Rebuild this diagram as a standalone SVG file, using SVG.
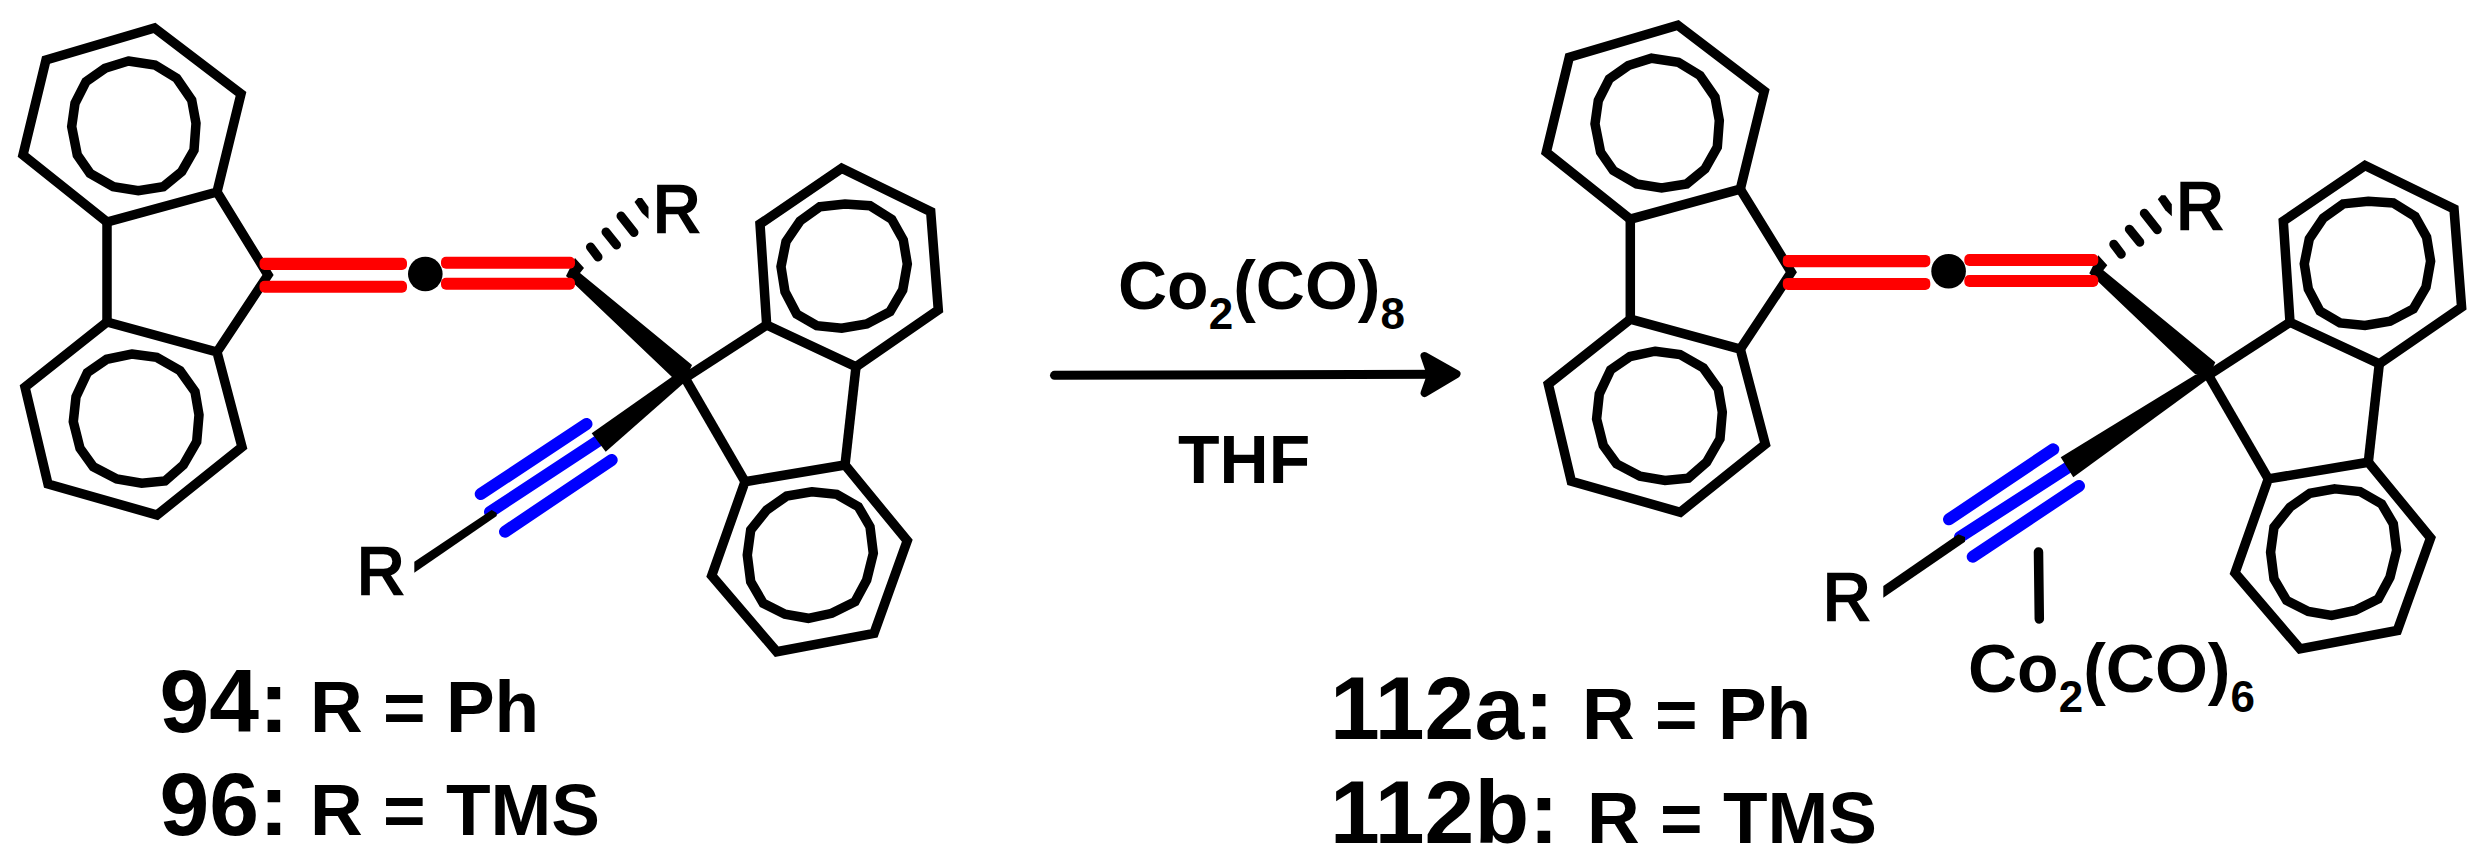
<svg xmlns="http://www.w3.org/2000/svg" xmlns:xlink="http://www.w3.org/1999/xlink" width="2485" height="866" viewBox="0 0 2485 866">
<style>
.b{fill:none;stroke:#000;stroke-width:9.5;stroke-linejoin:miter;stroke-miterlimit:6}
.k{fill:#000;stroke:none}
.h{fill:none;stroke:#000;stroke-width:9;stroke-linecap:round}
.red{fill:#f00;stroke:none}
.tr{fill:none;stroke:#00f;stroke-width:12;stroke-linecap:round}
text{font-family:"Liberation Sans",Arial,sans-serif;font-weight:700;fill:#000}
.n{font-size:89.5px}
.r{font-size:73px}
.a{font-size:68px}
.s{font-size:44px}
.atom{font-size:66px;font-weight:400;stroke:#000;stroke-width:2.6}
</style>
<defs>
<g id="core">
<polygon class="b" points="154.5,28 241,94 217,192 107,222 23,155 46,60"/>
<polygon class="b" points="128.3,61 155,65 176.7,78.3 191.7,100 196,123.3 194,150 181.7,171.7 163.3,186.7 138.3,190.7 113.3,186.7 90,173.3 77.3,155 71.7,126.7 75,103.3 86,81.7 105,68.3"/>
<polygon class="b" points="107,322 217,352 242,447 157,515 48,484 25,387"/>
<polygon class="b" points="131.7,354 156.7,357.3 180,370.7 195,391.7 199,415 196.7,441.7 183.3,465 165,481 141.7,483.3 116.7,479 93.3,466.7 80,448.3 73.3,421.7 76,396.7 87.3,372.7 106.7,359.3"/>
<polyline class="b" points="107,222 107,322"/>
<polyline class="b" points="217,192 268,275 217,352"/>
<polygon class="k" points="575,258 584,268 580,273 692,365 685,381 672,377 566,276"/>
<line class="h" x1="590.5" y1="247" x2="598" y2="257"/>
<line class="h" x1="606" y1="232" x2="616.5" y2="245"/>
<line class="h" x1="621" y1="216" x2="634" y2="232.5"/>
<polygon class="k" points="634.5,202 638,198 642,198 648.5,207 648.5,219 642,213"/>
<rect class="red" x="259.5" y="257.7" width="147.5" height="12.3" rx="5"/>
<rect class="red" x="259.5" y="280.7" width="147.5" height="12" rx="5"/>
<rect class="red" x="441" y="256.8" width="134" height="12" rx="5"/>
<rect class="red" x="441" y="277.8" width="134" height="12" rx="5"/>
<circle class="k" cx="425.3" cy="274" r="17.3"/>
<polyline class="b" points="685,378 766.7,325"/>
<polyline class="b" points="685,378 745,481.7"/>
<polygon class="b" points="766.7,325 856,366.7 938.3,310 930.7,211.7 841.7,168.3 760,224"/>
<polygon class="b" points="820,206.7 845,204 870,205.7 891.7,219.3 903.3,240 907.3,264 902.7,290 890,311.7 866.7,324 841.7,328.3 816.7,325.7 796.7,314 785,291.7 781,266.7 786,241.7 800,221"/>
<polyline class="b" points="856,366.7 845,465"/>
<polygon class="b" points="745,481.7 845,465 907.3,540.7 874,633.3 776.7,651.7 711.7,575.7"/>
<polygon class="b" points="811.7,491.7 836.7,494.3 858.3,506.7 870,526.7 873.3,553.3 866.7,580 855,601.7 831.7,613.3 808.3,618.3 785,614.3 763.3,603.3 750.7,581.7 747.3,555 750.7,530 766.7,510 786.7,496"/>
<text class="atom" x="653" y="232">R</text>
</g>
</defs>
<rect width="2485" height="866" fill="#fff"/>
<g id="compound-94">
<use href="#core" xlink:href="#core"/>
<line class="tr" x1="480.7" y1="494" x2="586.5" y2="424"/>
<line class="tr" x1="490" y1="512" x2="598" y2="441"/>
<line class="tr" x1="505" y1="531.7" x2="611.7" y2="460"/>
<polygon class="k" points="671.7,377 685,375 685,382 605.7,451.7 591.7,433.3"/>
<polygon class="k" points="414.3,561.7 491.7,510 496.7,513 496.7,516 414.3,572.7"/>
<text class="atom" x="357" y="594">R</text>
</g>
<g id="compound-112">
<use href="#core" xlink:href="#core" transform="translate(1523.3,-2.8)"/>
<line class="tr" x1="1949" y1="519.3" x2="2053.3" y2="449.3"/>
<line class="tr" x1="1960" y1="537" x2="2066.7" y2="468.3"/>
<line class="tr" x1="1972.7" y1="556.7" x2="2079" y2="486"/>
<polygon class="k" points="2195,375 2208.3,373 2208,379 2073.3,477.3 2060.7,457.3"/>
<polygon class="k" points="1883.3,586 1958.3,534.3 1965,537 1965,541.7 1883.3,597.7"/>
<line x1="2038.5" y1="552" x2="2039.3" y2="619" style="stroke:#000;stroke-width:9.5;stroke-linecap:round"/>
<text class="atom" x="1823" y="620">R</text>
<text class="a" x="1968" y="692">Co<tspan class="s" dy="20">2</tspan><tspan dy="-20">(CO)</tspan><tspan class="s" dy="20">6</tspan></text>
</g>
<g id="connectors">
<line x1="1054.5" y1="375.3" x2="1440" y2="374.3" style="stroke:#000;stroke-width:9;stroke-linecap:round"/>
<polygon points="1424.5,356 1456.5,374 1424.5,393 1431,375" style="fill:#000;stroke:#000;stroke-width:8;stroke-linejoin:round"/>
</g>
<g id="reagents">
<text class="a" x="1118" y="308.5">Co<tspan class="s" dy="20">2</tspan><tspan dy="-20">(CO)</tspan><tspan class="s" dy="20">8</tspan></text>
<text class="a" x="1178" y="483.3">THF</text>
</g>
<g id="labels">
<text class="n" x="159.4" y="731.7">94:</text>
<text class="r" x="310" y="731.7">R = Ph</text>
<text class="n" x="159.4" y="835">96:</text>
<text class="r" x="310" y="835">R = TMS</text>
<text class="n" x="1330" y="738.7">112a:</text>
<text class="r" x="1582" y="738.7">R = Ph</text>
<text class="n" x="1330" y="842.7">112b:</text>
<text class="r" x="1587" y="842.7">R = TMS</text>
</g>
</svg>
